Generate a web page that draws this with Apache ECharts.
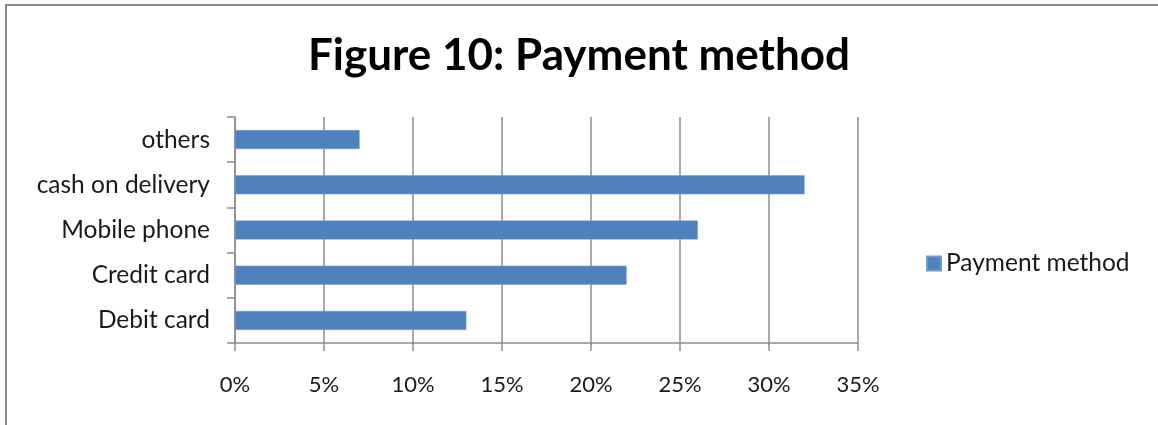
<!DOCTYPE html>
<html>
<head>
<meta charset="utf-8">
<script src="https://cdn.jsdelivr.net/npm/echarts@6/dist/echarts.min.js"></script>
<style>
  html, body { margin: 0; padding: 0; background: #fff; }
  #frame {
    position: absolute; left: 5px; top: 4px; width: 1153px; height: 421px;
    border-top: 2px solid #8c8c8c; border-left: 2px solid #8c8c8c;
  }
  #chart { position: absolute; left: 0; top: 0; width: 1158px; height: 425px; }
</style>
</head>
<body>
<div id="frame"></div>
<div id="chart"></div>
<script>
// categories listed bottom to top, as ECharts draws a category y axis
const categories = ["Debit card", "Credit card", "Mobile phone", "cash on delivery", "others"];
const shares = [13, 22, 26, 32, 7];
const seriesName = "Payment method";

const font = "Lato, 'Open Sans', sans-serif";
const chart = echarts.init(document.getElementById("chart"));

chart.setOption({
    animation: false,
    textStyle: { fontFamily: font },
    title: {
        text: "Figure 10: Payment method",
        left: "center",
        top: 29,
        textStyle: { fontFamily: font, fontSize: 44, fontWeight: "bold", color: "#000" }
    },
    legend: {
        data: [seriesName],
        left: 921,
        top: 246,
        icon: "rect",
        itemWidth: 14,
        itemHeight: 14,
        itemGap: 9,
        textStyle: { fontFamily: font, fontSize: 24.5, color: "#1a1a1a" }
    },
    grid: { left: 235, right: 300, top: 117, bottom: 82, containLabel: false },
    xAxis: {
        type: "value",
        min: 0,
        max: 35,
        interval: 5,
        axisLine: { show: true, lineStyle: { color: "#8c8c8c", width: 1.5 } },
        axisTick: { show: true, length: 8, lineStyle: { color: "#8c8c8c", width: 1.5 } },
        splitLine: { show: true, lineStyle: { color: "#8c8c8c", width: 1.5 } },
        axisLabel: {
            margin: 31,
            formatter: "{value}%",
            fontFamily: font,
            fontSize: 22,
            color: "#1a1a1a"
        }
    },
    yAxis: {
        type: "category",
        data: categories,
        axisLine: { show: true, lineStyle: { color: "#8c8c8c", width: 1.5 } },
        axisTick: { show: true, length: 8, lineStyle: { color: "#8c8c8c", width: 1.5 } },
        axisLabel: { margin: 25, fontFamily: font, fontSize: 24.5, color: "#1a1a1a" }
    },
    series: [{
        name: seriesName,
        type: "bar",
        data: shares,
        barWidth: 19,
        itemStyle: { color: "#4f81bd", borderColor: "#6f9ad0", borderWidth: 0.5 }
    }]
});
</script>
</body>
</html>
